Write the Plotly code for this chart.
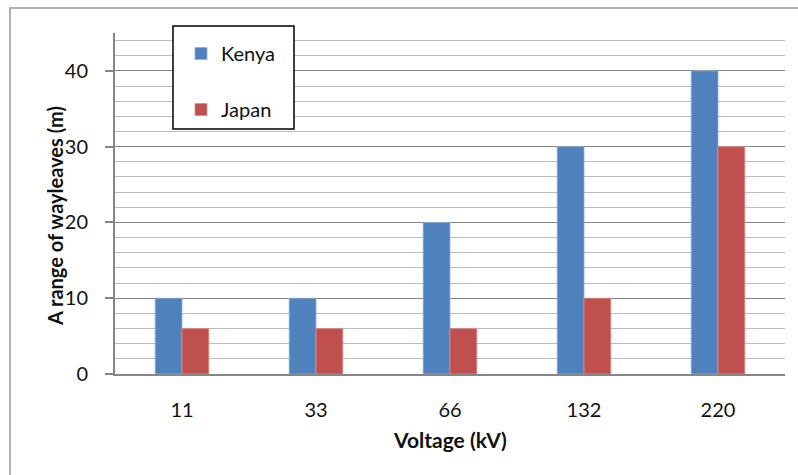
import plotly.graph_objects as go

# Wayleave widths by line voltage
voltages = ["11", "33", "66", "132", "220"]
kenya = [10, 10, 20, 30, 40]
japan = [6, 6, 6, 10, 30]

W, H = 798, 475
L, R, T, B = 115, 13, 33, 101
pw, ph = W - L - R, H - T - B

def px(x):
    return (x - L) / pw

def py(y):
    return (H - B - y) / ph

FONT = "Lato"
AXIS_GREY = "#868686"
TXT = "#111111"

fig = go.Figure()
fig.add_trace(go.Bar(
    x=voltages, y=kenya, name="Kenya", legendgroup="k",
    marker=dict(color="#4F81BD", line=dict(color="#8DB0DA", width=0.8)),
))
fig.add_trace(go.Bar(
    x=voltages, y=japan, name="Japan", legendgroup="j",
    marker=dict(color="#C0504D", line=dict(color="#D98E8C", width=0.8)),
))

fig.update_layout(
    width=W, height=H,
    margin=dict(l=L, r=R, t=T, b=B),
    paper_bgcolor="white", plot_bgcolor="white",
    barmode="group", bargap=0.6, bargroupgap=0,
    font=dict(family=FONT, size=20, color=TXT),
    showlegend=True,
    legend=dict(
        x=px(181), y=py(34), xanchor="left", yanchor="top",
        bgcolor="rgba(0,0,0,0)", borderwidth=0,
        traceorder="grouped", tracegroupgap=27,
        font=dict(family=FONT, size=20, color=TXT),
        itemclick=False,
    ),
    xaxis=dict(
        type="category", showline=True, linecolor=AXIS_GREY, linewidth=2,
        ticks="", showgrid=False, ticklabelstandoff=17,
        tickfont=dict(family=FONT, size=20, color=TXT),
    ),
    yaxis=dict(
        range=[0, 45], dtick=10, tick0=0,
        showline=True, linecolor=AXIS_GREY, linewidth=2,
        ticks="outside", ticklen=8, tickcolor=AXIS_GREY, tickwidth=2,
        showgrid=True, gridcolor=AXIS_GREY, gridwidth=1.2,
        minor=dict(dtick=2, showgrid=True, gridcolor="#BDBDBD", gridwidth=1.2),
        zeroline=False, ticklabelstandoff=13,
        tickfont=dict(family=FONT, size=20, color=TXT),
    ),
    shapes=[
        # chart-area frame
        dict(type="rect", xref="paper", yref="paper",
             x0=px(10), x1=px(W + 20), y0=py(H + 20), y1=py(8),
             line=dict(color="#9a9a9a", width=1.5), fillcolor="rgba(0,0,0,0)",
             layer="below"),
        # legend box
        dict(type="rect", xref="paper", yref="paper",
             x0=px(173), x1=px(294), y0=py(129), y1=py(26),
             line=dict(color="black", width=1.5), fillcolor="white",
             layer="above"),
    ],
    annotations=[
        dict(text="<b>Voltage (kV)</b>", xref="paper", yref="paper",
             x=px(450), y=py(439), xanchor="center", yanchor="middle",
             showarrow=False, font=dict(family=FONT, size=21, color=TXT)),
        dict(text="<b>A range of wayleaves (m)</b>", xref="paper", yref="paper",
             x=px(55), y=py(216), xanchor="center", yanchor="middle",
             textangle=-90, showarrow=False,
             font=dict(family=FONT, size=20, color=TXT)),
    ],
)

fig.write_html("out.html")
